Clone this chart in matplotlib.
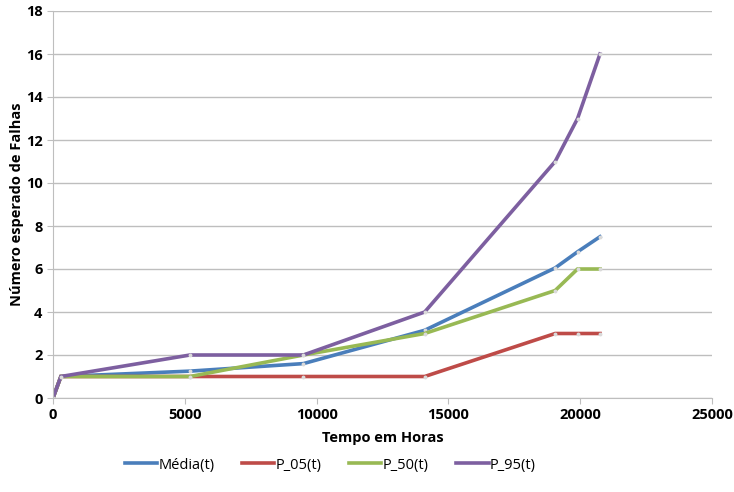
import matplotlib
matplotlib.use('Agg')
import matplotlib.pyplot as plt

plt.rcParams['font.family'] = ['Open Sans', 'DejaVu Sans']

# tempos (horas) e séries
tempo = [0, 300, 5200, 9500, 14100, 19050, 19900, 20750]
media = [0, 1, 1.25, 1.6, 3.15, 6.05, 6.8, 7.5]
p05 = [0, 1, 1, 1, 1, 3, 3, 3]
p50 = [0, 1, 1, 2, 3, 5, 6, 6]
p95 = [0, 1, 2, 2, 4, 11, 13, 16]

nomes = ['Média(t)', 'P_05(t)', 'P_50(t)', 'P_95(t)']
cores = ['#4A7EBB', '#BE4B48', '#98B954', '#7D5FA0']

fig = plt.figure(figsize=(7.34, 4.92), dpi=100)
ax = fig.add_axes([53/734, 1 - 398/492, (712-53)/734, (398-11)/492])

for serie, nome, cor in zip([media, p05, p50, p95], nomes, cores):
    ax.plot(tempo, serie, color=cor, lw=2.6, label=nome, solid_joinstyle='miter',
            marker='o', markersize=1.8, markerfacecolor='#DADADA', markeredgecolor='#DADADA')

ax.set_xlim(0, 25000)
ax.set_ylim(0, 18)
ax.set_xticks(range(0, 25001, 5000))
ax.set_yticks(range(0, 19, 2))
ax.yaxis.grid(True, color='#BEBEBE', lw=1)
ax.set_axisbelow(True)
for s in ['top', 'right']:
    ax.spines[s].set_visible(False)
for s in ['left', 'bottom']:
    ax.spines[s].set_color('#BEBEBE')
ax.tick_params(axis='both', colors='#BEBEBE', labelcolor='black', labelsize=10.5, length=4)
for lab in ax.get_xticklabels() + ax.get_yticklabels():
    lab.set_fontweight('bold')

ax.set_xlabel('Tempo em Horas', fontsize=10.5, fontweight='bold', labelpad=6)
ax.set_ylabel('Número esperado de Falhas', fontsize=10.5, fontweight='bold', labelpad=1)

fig.legend(loc='center', bbox_to_anchor=(0.45, 1 - 465/492), ncol=4, frameon=False,
           fontsize=10.5, handlelength=2.2, columnspacing=1.9, handletextpad=0.1)
for h in fig.legends[0].get_lines():
    h.set_marker('')

fig.savefig('out.png', dpi=100)
